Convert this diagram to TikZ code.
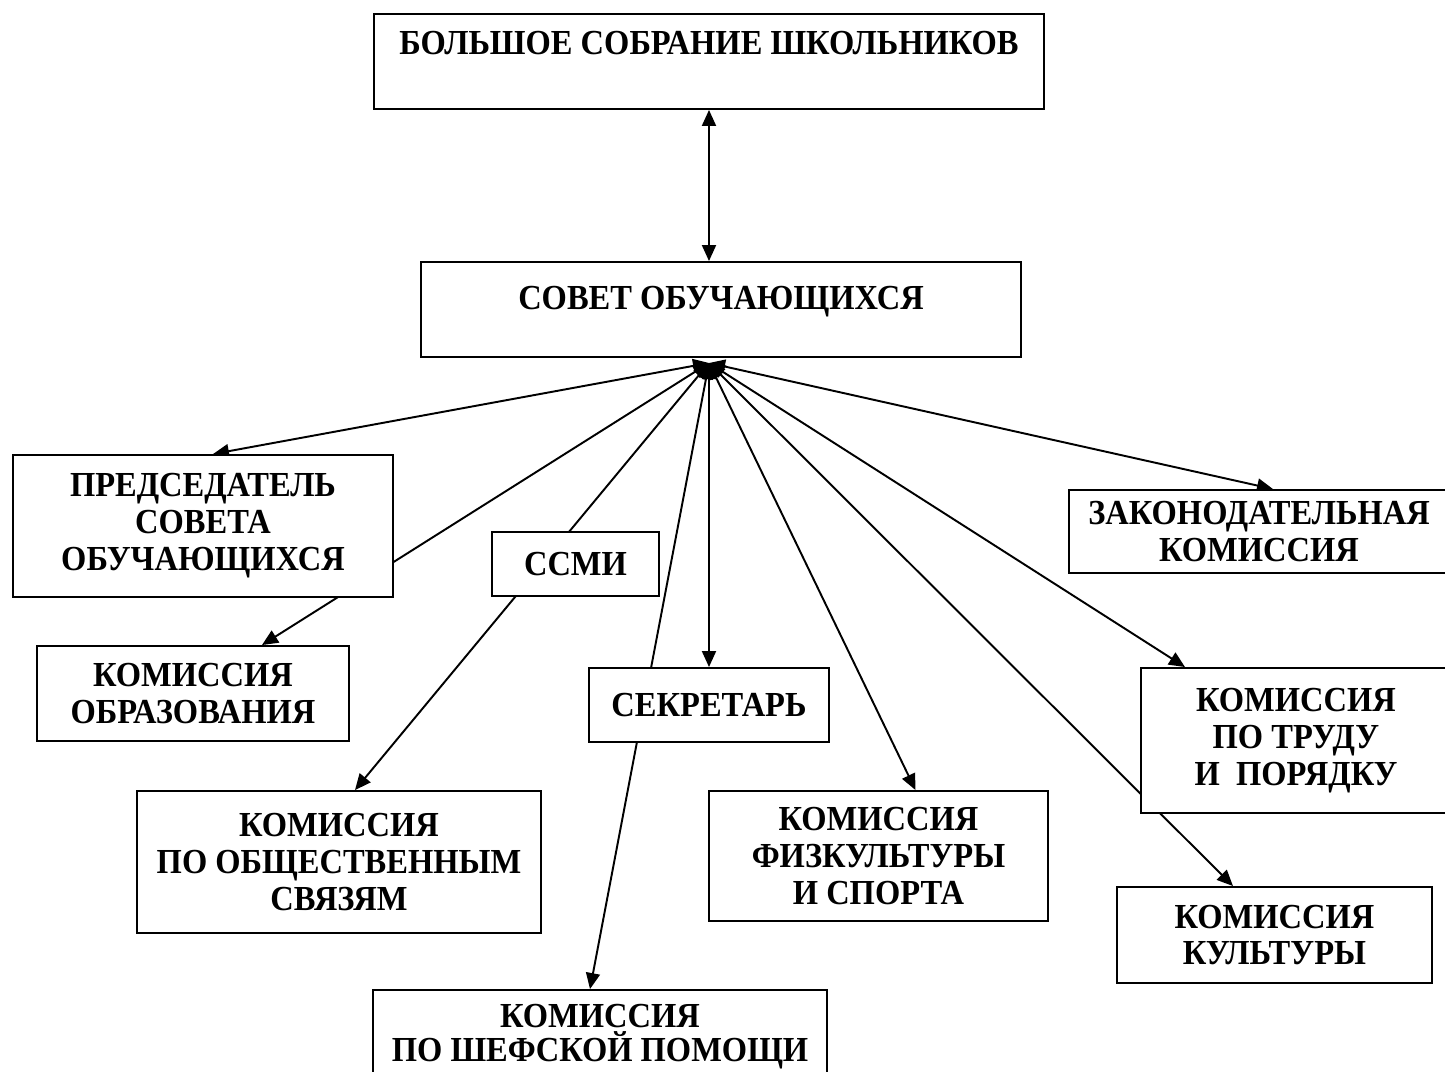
\documentclass[tikz,border=0pt]{standalone}
\usepackage{fontspec}
\setmainfont{Liberation Serif}
\newfontfamily\boxfont{Liberation Serif}[FakeStretch=0.925]
\usetikzlibrary{arrows.meta,backgrounds}
\begin{document}
\begin{tikzpicture}[x=0.02cm,y=-0.02cm]
        \tikzstyle{box}=[draw, fill=white, line width=1.1pt, align=center, inner sep=0pt, font=\boxfont\fontsize{20}{21}\selectfont\bfseries]
        \tikzstyle{link}=[line width=1.1pt, {Triangle[length=3.2mm,width=2.8mm]}-{Triangle[length=3.2mm,width=2.8mm]}]

        \useasboundingbox (0,0) rectangle (1445,1072);
        \clip (0,0) rectangle (1445,1072);

        \node[box, minimum width=13.4cm, minimum height=1.9cm] (sobr)  at (709,61.5)   {БОЛЬШОЕ СОБРАНИЕ ШКОЛЬНИКОВ\\~};
        \node[box, minimum width=12cm,   minimum height=1.9cm] (sovet) at (721,309.5)  {СОВЕТ ОБУЧАЮЩИХСЯ\\[-8pt]~};
        \coordinate (hub) at (709,363);

        \node[box, minimum width=7.6cm,  minimum height=2.84cm] (pred)  at (203,526)    {ПРЕДСЕДАТЕЛЬ\\СОВЕТА\\ОБУЧАЮЩИХСЯ};
        \node[box, minimum width=6.24cm, minimum height=1.9cm]  (obraz) at (193,693.5)  {КОМИССИЯ\\ОБРАЗОВАНИЯ};
        \node[box, minimum width=3.34cm, minimum height=1.28cm] (ssmi)  at (575.5,564)  {ССМИ};
        \node[box, minimum width=4.8cm,  minimum height=1.48cm] (sekr)  at (709,705)    {СЕКРЕТАРЬ};
        \node[box, minimum width=7.6cm,  minimum height=1.66cm] (zakon) at (1259,531.5) {ЗАКОНОДАТЕЛЬНАЯ\\КОМИССИЯ};
        \node[box, minimum width=6.2cm,  minimum height=2.9cm]  (trud)  at (1296,740.5) {КОМИССИЯ\\ПО ТРУДУ\\И~~ПОРЯДКУ};
        \node[box, minimum width=8.08cm, minimum height=2.84cm] (obsch) at (339,862)    {КОМИССИЯ\\ПО ОБЩЕСТВЕННЫМ\\СВЯЗЯМ};
        \node[box, minimum width=6.78cm, minimum height=2.6cm]  (fiz)   at (878.5,856)  {КОМИССИЯ\\ФИЗКУЛЬТУРЫ\\И СПОРТА};
        \node[box, minimum width=6.3cm,  minimum height=1.92cm] (kult)  at (1274.5,935) {КОМИССИЯ\\КУЛЬТУРЫ};
        \node[box, minimum width=9.08cm, minimum height=2.2cm]  (shef)  at (600,1045)   {КОМИССИЯ\\[-2pt]ПО ШЕФСКОЙ ПОМОЩИ\\[-7pt]~};

        \begin{scope}[on background layer]
        \draw[link] (sobr.south) -- (sobr.south |- sovet.north);
        \draw[link] (hub) -- ([xshift=0.2cm]pred.north);
        \draw[link] (hub) -- ([xshift=1.38cm]obraz.north);
        \draw[link] (hub) -- ([xshift=0.32cm]obsch.north);
        \draw[link] (hub) -- ([xshift=-0.2cm]shef.north);
        \draw[link] (hub) -- (sekr.north);
        \draw[link] (hub) -- ([xshift=0.74cm]fiz.north);
        \draw[link] (hub) -- ([xshift=-0.83cm]kult.north);
        \draw[link] (hub) -- ([xshift=-2.22cm]trud.north);
        \draw[link] (hub) -- ([xshift=0.28cm]zakon.north);
        \end{scope}
    \end{tikzpicture}
\end{document}
